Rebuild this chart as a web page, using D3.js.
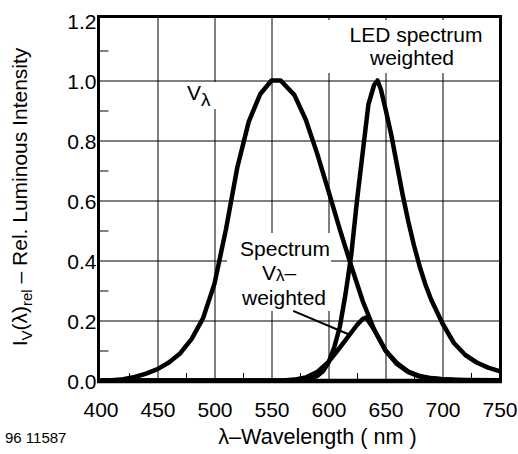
<!DOCTYPE html>
<html><head><meta charset="utf-8">
<script src="https://cdn.jsdelivr.net/npm/d3@7"></script>
<style>
html,body{margin:0;padding:0;background:#fff;}
svg text{font-family:"Liberation Sans",Arial,sans-serif;fill:#000;}
</style></head>
<body>
<svg id="c" width="518" height="454"></svg>
<script>
// ---- data ----
const xTickLabels = [400, 450, 500, 550, 600, 650, 700, 750];
const yTickLabels = ["0.0", "0.2", "0.4", "0.6", "0.8", "1.0", "1.2"];
const yTickValues = [0, 0.2, 0.4, 0.6, 0.8, 1.0, 1.2];

// V(lambda) photopic curve
const vLambda = [400,410,420,430,440,450,460,470,480,490,500,510,520,530,540,550,558,570,580,590,600,610,620,630,640,650,660,670,680,690,700,710,720,730,740,750];
const vValues = [0.0004,0.0012,0.004,0.0116,0.023,0.038,0.06,0.091,0.139,0.208,0.323,0.503,0.71,0.862,0.954,1.0,1.0,0.952,0.87,0.757,0.631,0.503,0.381,0.265,0.17,0.1,0.058,0.03,0.015,0.008,0.004,0.002,0.001,0.0005,0.0003,0.0001];

// LED spectrum
const ledLambda = [400,500,560,570,580,590,595,600,605,610,615,620,625,630,635,640,643,646,650,655,660,665,670,675,680,685,690,700,710,720,730,740,750];
const ledValues = [0,0,0,0.001,0.004,0.015,0.03,0.06,0.11,0.18,0.29,0.42,0.6,0.76,0.92,0.985,1.0,0.97,0.905,0.82,0.72,0.62,0.53,0.45,0.38,0.32,0.27,0.19,0.125,0.085,0.06,0.043,0.031];

// Spectrum V(lambda)-weighted
const wLambda = [400,500,560,570,580,590,600,610,620,625,630,633,640,645,650,660,670,680,690,700,720,750];
const wValues = [0,0,0,0.003,0.01,0.028,0.062,0.11,0.16,0.185,0.205,0.21,0.17,0.135,0.1,0.055,0.028,0.013,0.007,0.004,0.002,0.001];

// ---- chart ----
const svg = d3.select("#c");
const x = d3.scaleLinear().domain([400, 750]).range([100.5, 499.5]);
const y = d3.scaleLinear().domain([0, 1.2]).range([380.5, 20.5]);
const FONT = 21;

// gridlines via axes
svg.append("g").attr("transform","translate(0,381)")
  .call(d3.axisBottom(x).tickValues(xTickLabels.slice(1,-1)).tickSize(-365).tickFormat(""))
  .call(g=>{g.select(".domain").remove(); g.selectAll("line").attr("stroke","#000").attr("stroke-width",1);});
svg.append("g").attr("transform","translate(98.5,0)")
  .call(d3.axisLeft(y).tickValues(yTickValues.slice(1,-1)).tickSize(-402).tickFormat(""))
  .call(g=>{g.select(".domain").remove(); g.selectAll("line").attr("stroke","#000").attr("stroke-width",1);});

// minor ticks
svg.append("g").attr("transform","translate(0,381)")
  .call(d3.axisBottom(x).tickValues(d3.range(425, 750, 50)).tickSize(-8).tickFormat(""))
  .call(g=>{g.select(".domain").remove(); g.selectAll("line").attr("stroke","#000").attr("stroke-width",1);});
svg.append("g").attr("transform","translate(98.5,0)")
  .call(d3.axisLeft(y).tickValues(d3.range(0.1, 1.15, 0.2)).tickSize(-10).tickFormat(""))
  .call(g=>{g.select(".domain").remove(); g.selectAll("line").attr("stroke","#000").attr("stroke-width",1);});

// white label boxes (hide gridlines)
const boxes = [[324,20,176,53],[176,82,42,27],[227,233,104,78]];
svg.append("g").selectAll("rect").data(boxes).join("rect")
  .attr("x",d=>d[0]).attr("y",d=>d[1]).attr("width",d=>d[2]).attr("height",d=>d[3]).attr("fill","#fff");

// tick labels via axes
svg.append("g").attr("transform","translate(0,381)")
  .call(d3.axisBottom(x).tickValues(xTickLabels).tickSize(0).tickPadding(0).tickFormat(d3.format("d")))
  .call(g=>{g.select(".domain").remove();
    g.selectAll("text").attr("dy",null).attr("y",35.5).attr("font-size",FONT).attr("font-family","Liberation Sans, Arial, sans-serif").attr("fill","#000");});
svg.append("g").attr("transform","translate(96.5,0)")
  .call(d3.axisLeft(y).tickValues(yTickValues).tickSize(0).tickPadding(0).tickFormat((d,i)=>yTickLabels[i]))
  .call(g=>{g.select(".domain").remove();
    g.selectAll("text").attr("dy",null).attr("y",7.5).attr("x",0).attr("font-size",FONT).attr("font-family","Liberation Sans, Arial, sans-serif").attr("fill","#000");});

// curves
const line = d3.line().x(d=>x(d[0])).y(d=>y(d[1])).curve(d3.curveLinear);
const series = [d3.zip(vLambda,vValues), d3.zip(ledLambda,ledValues), d3.zip(wLambda,wValues)];
svg.append("g").selectAll("path").data(series).join("path")
  .attr("d", line).attr("fill","none").attr("stroke","#000").attr("stroke-width",4.5)
  .attr("stroke-linejoin","round").attr("stroke-linecap","butt");

// frame
svg.append("rect").attr("x",98.5).attr("y",16.5).attr("width",402).attr("height",364.5)
  .attr("fill","none").attr("stroke","#000").attr("stroke-width",3);
svg.append("line").attr("x1",97).attr("x2",502).attr("y1",381).attr("y2",381)
  .attr("stroke","#000").attr("stroke-width",4.5);

// leader line
svg.append("line").attr("x1",x(569)).attr("y1",y(0.232)).attr("x2",x(617)).attr("y2",y(0.155))
  .attr("stroke","#000").attr("stroke-width",2);

// annotations
const ann = svg.append("g").attr("font-size",FONT);
const led = ann.append("text").attr("text-anchor","middle");
led.append("tspan").attr("x",416).attr("y",41.5).text("LED spectrum");
led.append("tspan").attr("x",412).attr("y",64.5).text("weighted");
const vl = ann.append("text").attr("x",187).attr("y",100);
vl.append("tspan").text("V");
vl.append("tspan").attr("dy",6).attr("font-size",19).text("λ");
ann.append("text").attr("x",285).attr("y",255.5).attr("text-anchor","middle").text("Spectrum");
const vw = ann.append("text").attr("x",262).attr("y",279.5);
vw.append("tspan").text("V");
vw.append("tspan").attr("dy",1.5).attr("font-size",17).text("λ");
vw.append("tspan").attr("dy",-1.5).text("–");
ann.append("text").attr("x",284).attr("y",304.5).attr("text-anchor","middle").text("weighted");

// axis titles
svg.append("text").attr("x",317.5).attr("y",443.5).attr("text-anchor","middle").attr("font-size",21.6)
  .text("λ–Wavelength ( nm )");
svg.append("text").attr("x",5).attr("y",443).attr("font-size",15).text("96 11587");
const yt = svg.append("text").attr("transform","translate(27,197) rotate(-90)")
  .attr("text-anchor","middle").attr("font-size",FONT);
yt.append("tspan").text("I");
yt.append("tspan").attr("dy",5).attr("font-size",15).text("V");
yt.append("tspan").attr("dy",-5).text("(λ)");
yt.append("tspan").attr("dy",5).attr("font-size",15).text("rel");
yt.append("tspan").attr("dy",-5).text(" – Rel. Luminous Intensity");
</script>
</body></html>
